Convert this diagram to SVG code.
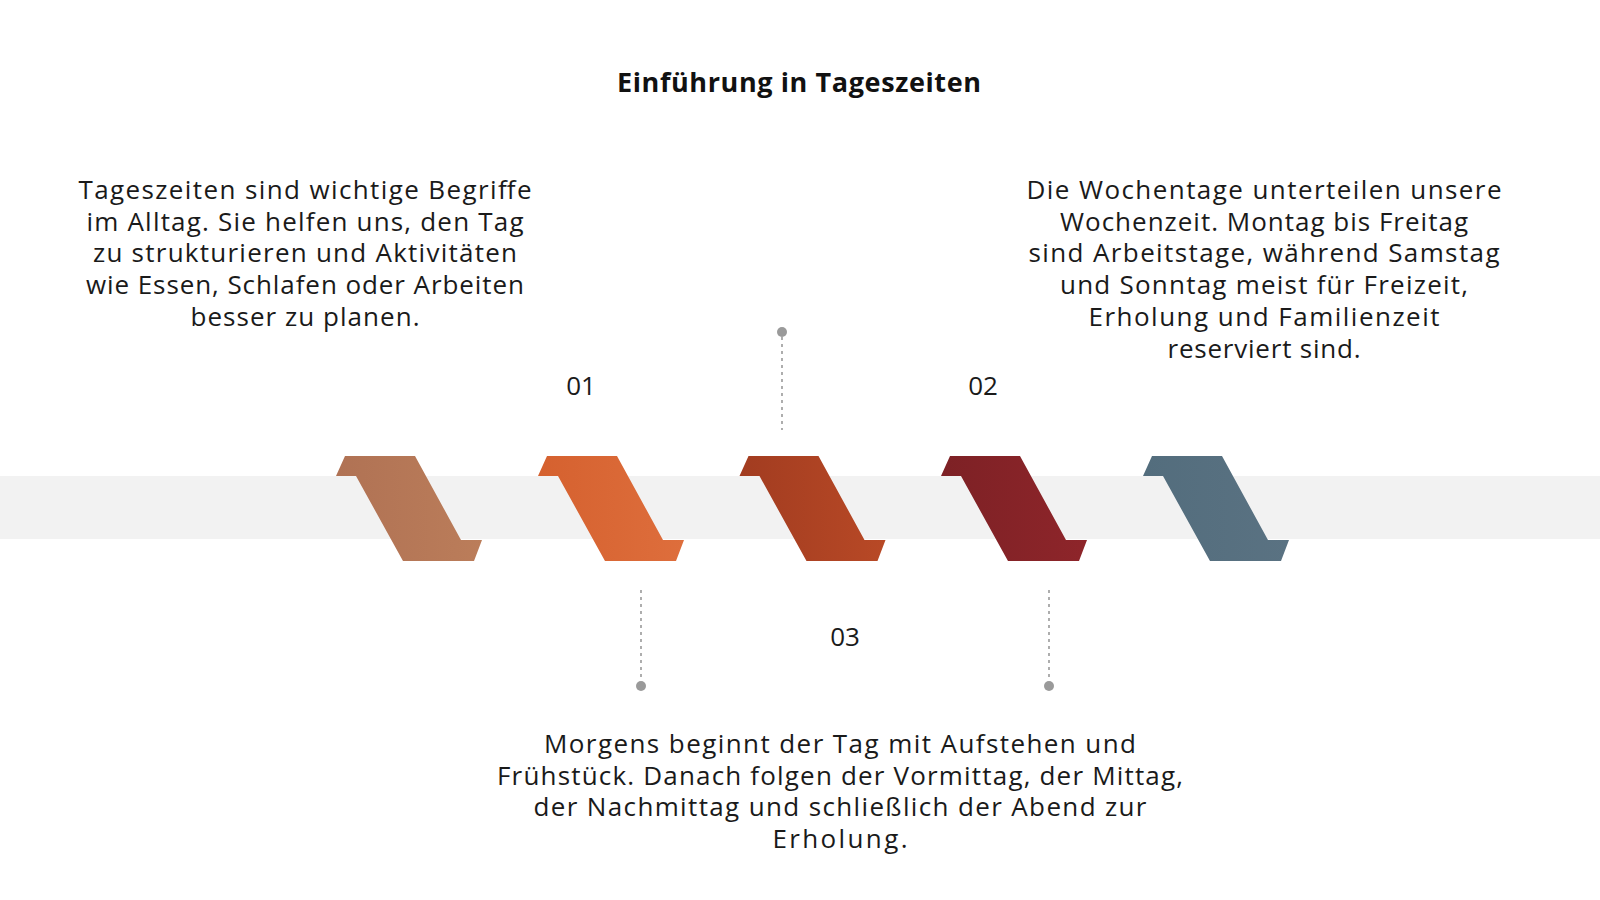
<svg xmlns="http://www.w3.org/2000/svg" width="1600" height="900" viewBox="0 0 1600 900">
  <style>
    .title { font-family: "Open Sans", "Liberation Sans", sans-serif; font-weight: 700; font-size: 27px; fill: #111111; text-anchor: middle; }
    .body { font-family: "Open Sans", "Liberation Sans", sans-serif; font-weight: 400; font-size: 26px; fill: #1a1a1a; text-anchor: middle; }
    .num { font-family: "Open Sans", "Liberation Sans", sans-serif; font-weight: 400; font-size: 26px; fill: #1a1a1a; text-anchor: middle; }
    .conn { stroke: #9a9a9a; stroke-width: 1.6; stroke-dasharray: 3 4; fill: none; }
    .dot { fill: #9a9a9a; }
  </style>
  <defs>
    <polygon id="chev" points="9,456 79,456 125,540 146,540 138,561 67,561 20,476 0,476"/>
    <linearGradient id="g1" x1="0" y1="0" x2="1" y2="0">
      <stop offset="0" stop-color="#b07254"/>
      <stop offset="1" stop-color="#bb7d5a"/>
    </linearGradient>
    <linearGradient id="g2" x1="0" y1="0" x2="1" y2="0">
      <stop offset="0" stop-color="#d5612f"/>
      <stop offset="1" stop-color="#de6e3c"/>
    </linearGradient>
    <linearGradient id="g3" x1="0" y1="0" x2="1" y2="0">
      <stop offset="0" stop-color="#a23c20"/>
      <stop offset="1" stop-color="#b84926"/>
    </linearGradient>
    <linearGradient id="g4" x1="0" y1="0" x2="1" y2="0">
      <stop offset="0" stop-color="#7d2125"/>
      <stop offset="1" stop-color="#8e252a"/>
    </linearGradient>
    <linearGradient id="g5" x1="0" y1="0" x2="1" y2="0">
      <stop offset="0" stop-color="#536d7d"/>
      <stop offset="1" stop-color="#5a7282"/>
    </linearGradient>
  </defs>

  <rect x="0" y="0" width="1600" height="900" fill="#ffffff"/>

  <g id="title">
    <text class="title" x="799" y="92" textLength="364" lengthAdjust="spacing">Einführung in Tageszeiten</text>
  </g>

  <g id="band">
    <rect x="0" y="476" width="1600" height="63" fill="#f2f2f2"/>
  </g>

  <g id="step1"><use href="#chev" x="336" fill="url(#g1)"/></g>
  <g id="step2"><use href="#chev" x="538" fill="url(#g2)"/></g>
  <g id="step3"><use href="#chev" x="739.5" fill="url(#g3)"/></g>
  <g id="step4"><use href="#chev" x="941" fill="url(#g4)"/></g>
  <g id="step5"><use href="#chev" x="1143" fill="url(#g5)"/></g>

  <g id="connectors">
    <line class="conn" x1="782" y1="337" x2="782" y2="430"/>
    <circle class="dot" cx="782" cy="332" r="5"/>
    <line class="conn" x1="641" y1="590" x2="641" y2="681"/>
    <circle class="dot" cx="641" cy="686" r="5"/>
    <line class="conn" x1="1049" y1="590" x2="1049" y2="681"/>
    <circle class="dot" cx="1049" cy="686" r="5"/>
  </g>

  <g id="label01"><text class="num" x="581" y="395">01</text></g>
  <g id="label02"><text class="num" x="983" y="395">02</text></g>
  <g id="label03"><text class="num" x="845" y="646">03</text></g>

  <g id="text01">
    <text class="body" x="305" y="199" textLength="453" lengthAdjust="spacing">Tageszeiten sind wichtige Begriffe</text>
    <text class="body" x="305" y="230.7" textLength="437" lengthAdjust="spacing">im Alltag. Sie helfen uns, den Tag</text>
    <text class="body" x="305" y="262.4" textLength="424" lengthAdjust="spacing">zu strukturieren und Aktivitäten</text>
    <text class="body" x="305" y="294.1" textLength="438" lengthAdjust="spacing">wie Essen, Schlafen oder Arbeiten</text>
    <text class="body" x="305" y="325.8" textLength="229" lengthAdjust="spacing">besser zu planen.</text>
  </g>

  <g id="text02">
    <text class="body" x="1264" y="199" textLength="475" lengthAdjust="spacing">Die Wochentage unterteilen unsere</text>
    <text class="body" x="1264" y="230.7" textLength="408" lengthAdjust="spacing">Wochenzeit. Montag bis Freitag</text>
    <text class="body" x="1264" y="262.4" textLength="471" lengthAdjust="spacing">sind Arbeitstage, während Samstag</text>
    <text class="body" x="1264" y="294.1" textLength="408" lengthAdjust="spacing">und Sonntag meist für Freizeit,</text>
    <text class="body" x="1264" y="325.8" textLength="351" lengthAdjust="spacing">Erholung und Familienzeit</text>
    <text class="body" x="1264" y="357.5" textLength="193" lengthAdjust="spacing">reserviert sind.</text>
  </g>

  <g id="text03">
    <text class="body" x="840" y="753" textLength="592" lengthAdjust="spacing">Morgens beginnt der Tag mit Aufstehen und</text>
    <text class="body" x="840" y="784.7" textLength="686" lengthAdjust="spacing">Frühstück. Danach folgen der Vormittag, der Mittag,</text>
    <text class="body" x="840" y="816.4" textLength="613" lengthAdjust="spacing">der Nachmittag und schließlich der Abend zur</text>
    <text class="body" x="840" y="848.1" textLength="135" lengthAdjust="spacing">Erholung.</text>
  </g>
</svg>
